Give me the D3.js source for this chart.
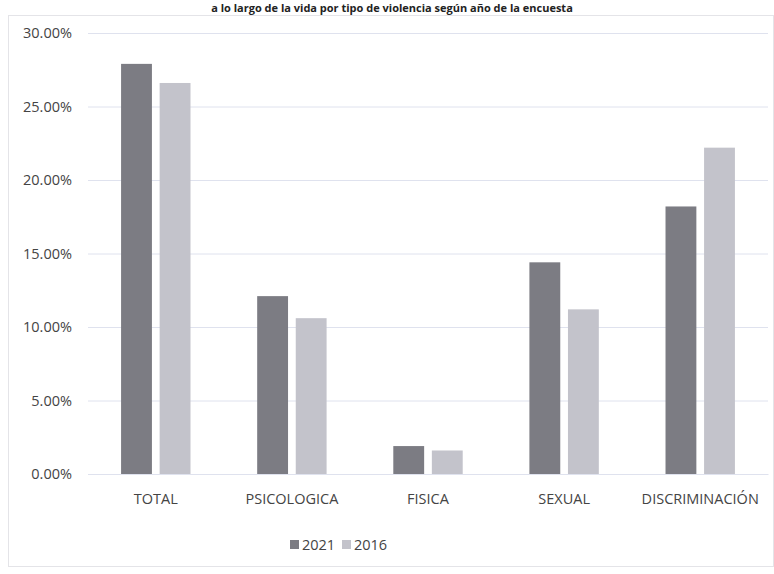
<!DOCTYPE html>
<html>
<head>
<meta charset="utf-8">
<script src="https://cdn.jsdelivr.net/npm/d3@7"></script>
<style>
  body { margin: 0; background: #fff; }
  text { font-family: "Open Sans", "DejaVu Sans", sans-serif; }
</style>
</head>
<body>
<div id="my_dataviz"></div>
<script>
// values (percent)
var categories = ["TOTAL", "PSICOLOGICA", "FISICA", "SEXUAL", "DISCRIMINACIÓN"];
var seriesNames = ["2021", "2016"];
var values2021 = [27.9, 12.1, 1.9, 14.4, 18.2];
var values2016 = [26.6, 10.6, 1.6, 11.2, 22.2];
var yTicks = [0, 5, 10, 15, 20, 25, 30];
var colors = ["#7c7c83", "#c3c3cb"];

var W = 774, H = 574;
var margin = {top: 33, right: 6, bottom: 100, left: 88},
    width = W - margin.left - margin.right,
    height = 474 - margin.top;

var root = d3.select("#my_dataviz")
    .append("svg")
    .attr("width", W)
    .attr("height", H);

// chart frame
root.append("rect")
    .attr("x", 8.5).attr("y", 15.5)
    .attr("width", W - 9).attr("height", 551)
    .attr("fill", "none")
    .attr("stroke", "#e4e4e8");

// title (the reference photo cuts its top off)
root.append("text")
    .attr("x", 392)
    .attr("y", 12)
    .style("text-anchor", "middle")
    .style("font-weight", "bold")
    .style("font-size", "11px")
    .attr("fill", "#222")
    .text("a lo largo de la vida por tipo de violencia según año de la encuesta");

var svg = root.append("g")
    .attr("transform", "translate(" + margin.left + "," + margin.top + ")");

var y = d3.scaleLinear()
    .domain([0, 30])
    .range([height, 0]);

var x = d3.scaleBand()
    .domain(categories)
    .range([0, width])
    .paddingInner(0.49)
    .paddingOuter(0.243);

var xs = d3.scaleBand()
    .domain(seriesNames)
    .range([0, x.bandwidth()])
    .paddingInner(0.2);

// gridlines
svg.append("g")
    .call(d3.axisLeft(y).tickValues(yTicks).tickSize(-width).tickFormat(""))
    .call(g => g.select(".domain").remove())
    .selectAll("line")
    .attr("stroke", "#dfe2ee");

// y labels
svg.append("g")
    .call(d3.axisLeft(y).tickValues(yTicks).tickSize(0).tickPadding(16)
        .tickFormat(d => d.toFixed(2) + "%"))
    .call(g => g.select(".domain").remove())
    .selectAll("text")
    .style("font-size", "14.5px")
    .style("font-family", "\"Open Sans\", sans-serif")
    .attr("fill", "#444");

var table = categories.map(function(c, i){
    return {cat: c, vals: [values2021[i], values2016[i]]};
});

var groups = svg.selectAll(".grp")
    .data(table)
    .enter().append("g")
    .attr("transform", d => "translate(" + x(d.cat) + ",0)");

groups.selectAll("rect")
    .data(d => d.vals.map((v, j) => ({name: seriesNames[j], v: v, j: j})))
    .enter().append("rect")
    .attr("x", d => xs(d.name))
    .attr("y", d => y(d.v))
    .attr("width", xs.bandwidth())
    .attr("height", d => height - y(d.v))
    .attr("fill", d => colors[d.j]);

// x labels
svg.append("g")
    .attr("transform", "translate(0," + height + ")")
    .call(d3.axisBottom(x).tickSize(0).tickPadding(20))
    .call(g => g.select(".domain").attr("stroke", "#dfe2ee"))
    .selectAll("text")
    .style("font-size", "14.5px")
    .style("font-family", "\"Open Sans\", sans-serif")
    .attr("fill", "#444");

// legend
var legend = root.append("g")
    .attr("transform", "translate(290,545)");
var lx = 0;
seriesNames.forEach(function(name, i){
    legend.append("rect")
        .attr("x", lx).attr("y", -5)
        .attr("width", 9).attr("height", 9)
        .attr("fill", colors[i]);
    legend.append("text")
        .attr("x", lx + 12)
        .attr("y", 0)
        .attr("dy", "0.35em")
        .style("font-size", "14.5px")
        .attr("fill", "#444")
        .text(name);
    lx += 52;
});
</script>
</body>
</html>
